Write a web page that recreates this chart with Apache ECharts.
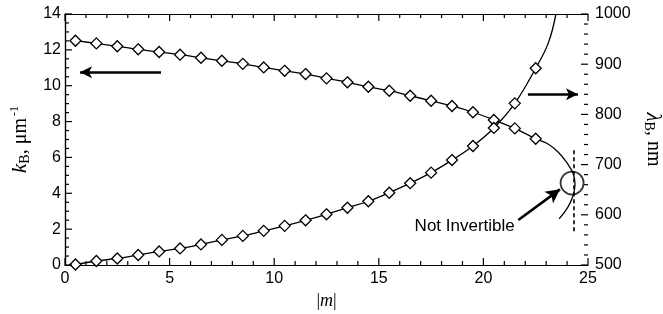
<!DOCTYPE html>
<html>
<head>
<meta charset="utf-8">
<script src="https://cdn.jsdelivr.net/npm/echarts@6/dist/echarts.min.js"></script>
<style>
  html, body { margin: 0; padding: 0; background: #fff; }
  #chart { width: 663px; height: 314px; }
</style>
</head>
<body>
<div id="chart"></div>
<script>
// computed points (diamonds)
const mVals = [0.5, 1.5, 2.5, 3.5, 4.5, 5.5, 6.5, 7.5, 8.5, 9.5, 10.5, 11.5,
  12.5, 13.5, 14.5, 15.5, 16.5, 17.5, 18.5, 19.5, 20.5, 21.5, 22.5]
const kVals = [12.51, 12.36, 12.2, 12.03, 11.88, 11.73, 11.56, 11.39, 11.22, 11.02, 10.83, 10.65,
  10.41, 10.19, 9.94, 9.72, 9.44, 9.16, 8.87, 8.52, 8.09, 7.62, 7.04]
const lamVals = [501, 508, 513, 520, 527, 533, 541, 550, 558, 568, 578, 589,
  601, 614, 627, 644, 663, 684, 709, 737, 773, 822, 892]

// continuation of the curves past the last computed point
const kTailM = [23.09, 23.57, 24.0, 24.28, 24.38, 24.28, 24.04, 23.62]
const kTailK = [6.75, 6.3, 5.69, 5.13, 4.52, 3.85, 3.23, 2.57]
const lamTailM = [23.1, 23.47]
const lamTailL = [942, 1000]

const xTicks = [0, 5, 10, 15, 20, 25]
const kTicks = [0, 2, 4, 6, 8, 10, 12, 14]
const lamTicks = [500, 600, 700, 800, 900, 1000]

// annotations (data coords)
const leftArrow = [[4.59, 10.75], [0.72, 10.75]]
const rightArrow = [[22.13, 840], [24.52, 840]]
const notInvArrow = [[21.67, 2.51], [23.66, 4.22]]
const notInvText = [21.5, 2.17]
const circlePt = [24.24, 4.57]
const dashedLine = [[24.3, 6.4], [24.3, 1.85]]

const black = '#000'
const sans = '"Liberation Sans", Arial, sans-serif'
const serif = '"Liberation Serif", "Times New Roman", serif'

const chart = echarts.init(document.getElementById('chart'))

const plainLabel = (v) => String(v)
const axisLine = { show: true, lineStyle: { color: black, width: 1.2 } }
const noTick = { show: false }

const kData = mVals.map((m, i) => [m, kVals[i]])
  .concat(kTailM.map((m, i) => ({ value: [m, kTailK[i]], symbol: 'none' })))
const lamData = mVals.map((m, i) => [m, lamVals[i]])
  .concat(lamTailM.map((m, i) => ({ value: [m, lamTailL[i]], symbol: 'none' })))

const option = {
  animation: false,
  backgroundColor: '#fff',
  grid: { left: 65, right: 75, top: 14, bottom: 49, containLabel: false, outerBoundsMode: 'none' },
  xAxis: [
    {
      type: 'value',
      min: xTicks[0],
      max: xTicks[xTicks.length - 1],
      interval: 5,
      position: 'bottom',
      name: '|{m|m}|',
      nameLocation: 'middle',
      nameGap: 17,
      nameTextStyle: {
        fontFamily: serif, fontSize: 18, color: black,
        rich: { m: { fontFamily: serif, fontStyle: 'italic', fontSize: 18, color: black } },
      },
      axisLine: axisLine,
      axisTick: noTick,
      minorTick: noTick,
      axisLabel: { color: black, fontFamily: sans, fontSize: 16, margin: 6, formatter: plainLabel },
      splitLine: { show: false },
    },
    {
      type: 'value',
      min: xTicks[0],
      max: xTicks[xTicks.length - 1],
      interval: 5,
      position: 'top',
      axisLine: axisLine,
      axisTick: noTick,
      minorTick: noTick,
      axisLabel: { show: false },
      splitLine: { show: false },
    },
  ],
  yAxis: [
    {
      type: 'value',
      min: kTicks[0],
      max: kTicks[kTicks.length - 1],
      interval: 2,
      position: 'left',
      name: '{k|k}{sub|B}{n|, μm}{sup|-1}',
      nameLocation: 'middle',
      nameGap: 30,
      nameTextStyle: {
        color: black,
        rich: {
          k: { fontFamily: serif, fontStyle: 'italic', fontSize: 21, color: black },
          sub: { fontFamily: serif, fontSize: 14, color: black, verticalAlign: 'bottom', padding: [9, 0, 0, 0] },
          n: { fontFamily: serif, fontSize: 20, color: black },
          sup: { fontFamily: serif, fontSize: 12, color: black, verticalAlign: 'top', padding: [0, 0, 11, 2] },
        },
      },
      axisLine: axisLine,
      axisTick: noTick,
      minorTick: noTick,
      axisLabel: { color: black, fontFamily: sans, fontSize: 16, margin: 4, formatter: plainLabel },
      splitLine: { show: false },
    },
    {
      type: 'value',
      min: lamTicks[0],
      max: lamTicks[lamTicks.length - 1],
      interval: 100,
      position: 'right',
      name: '{l|λ}{sub|B}{n|, nm}',
      nameLocation: 'middle',
      nameRotate: -90,
      nameGap: 47,
      nameTextStyle: {
        color: black,
        rich: {
          l: { fontFamily: serif, fontStyle: 'italic', fontSize: 21, color: black },
          sub: { fontFamily: serif, fontSize: 14, color: black, verticalAlign: 'bottom', padding: [9, 0, 0, 0] },
          n: { fontFamily: serif, fontSize: 20, color: black },
        },
      },
      axisLine: axisLine,
      axisTick: noTick,
      minorTick: noTick,
      axisLabel: { color: black, fontFamily: sans, fontSize: 16, margin: 7, formatter: plainLabel },
      splitLine: { show: false },
    },
  ],
  series: [
    {
      name: 'kB',
      type: 'line',
      xAxisIndex: 0,
      yAxisIndex: 0,
      smooth: 0.4,
      data: kData,
      symbol: 'diamond',
      symbolSize: 11,
      itemStyle: { color: '#fff', borderColor: black, borderWidth: 1.3 },
      lineStyle: { color: black, width: 1.3 },
      z: 3,
      markLine: {
        silent: true,
        label: { show: false },
        data: [
          [
            { coord: leftArrow[0], symbol: 'none' },
            { coord: leftArrow[1], symbol: 'arrow', symbolSize: [9, 12] },
          ],
          [
            { coord: notInvArrow[0], symbol: 'none' },
            { coord: notInvArrow[1], symbol: 'arrow', symbolSize: [11, 14] },
          ],
          [
            { coord: dashedLine[0], symbol: 'none', lineStyle: { type: [4, 3], width: 1.6 } },
            { coord: dashedLine[1], symbol: 'none' },
          ],
        ],
        lineStyle: { color: black, width: 2.6, type: 'solid' },
      },
      markPoint: {
        silent: true,
        symbol: 'circle',
        symbolSize: 0,
        data: [{ coord: notInvText }],
        label: {
          show: true,
          position: 'left',
          distance: 0,
          formatter: 'Not Invertible',
          color: black,
          fontFamily: sans,
          fontSize: 17,
        },
      },
    },
    {
      name: 'lambdaB',
      type: 'line',
      xAxisIndex: 0,
      yAxisIndex: 1,
      smooth: 0.4,
      data: lamData,
      symbol: 'diamond',
      symbolSize: 11,
      itemStyle: { color: '#fff', borderColor: black, borderWidth: 1.3 },
      lineStyle: { color: black, width: 1.3 },
      z: 3,
      markLine: {
        silent: true,
        label: { show: false },
        lineStyle: { color: black, width: 2.6, type: 'solid' },
        data: [
          [
            { coord: rightArrow[0], symbol: 'none' },
            { coord: rightArrow[1], symbol: 'arrow', symbolSize: [9, 12] },
          ],
        ],
      },
    },
    {
      name: 'circle',
      type: 'scatter',
      xAxisIndex: 0,
      yAxisIndex: 0,
      data: [circlePt],
      symbol: 'circle',
      symbolSize: 23,
      silent: true,
      itemStyle: { color: 'rgba(0,0,0,0)', borderColor: black, borderWidth: 1.8 },
      z: 4,
    },
  ],
}

chart.setOption(option)

// inward ticks on all four sides, placed through the axes' own scales
const drawTicks = () => {
  const px = (v) => chart.convertToPixel({ xAxisIndex: 0 }, v)
  const pk = (v) => chart.convertToPixel({ yAxisIndex: 0 }, v)
  const pl = (v) => chart.convertToPixel({ yAxisIndex: 1 }, v)
  const left = px(xTicks[0])
  const right = px(xTicks[xTicks.length - 1])
  const bottom = pk(kTicks[0])
  const top = pk(kTicks[kTicks.length - 1])
  const els = []
  const seg = (x1, y1, x2, y2) => els.push({
    type: 'line', silent: true, z: 10,
    shape: { x1, y1, x2, y2 },
    style: { stroke: black, lineWidth: 1.2 },
  })
  // x: major every 5, minor every 1
  for (let i = 0; i <= 25; i++) {
    const len = i % 5 === 0 ? 7 : 4
    const x = px(i)
    seg(x, bottom, x, bottom - len)
    seg(x, top, x, top + len)
  }
  // k: major every 2, minor every 0.5
  for (let i = 0; i <= 28; i++) {
    const len = i % 4 === 0 ? 7 : 4
    const y = pk(i * 0.5)
    seg(left, y, left + len, y)
  }
  // lambda: major every 100, minor every 20
  for (let i = 0; i <= 25; i++) {
    const len = i % 5 === 0 ? 7 : 4
    const y = pl(500 + i * 20)
    seg(right, y, right - len, y)
  }
  chart.setOption({ graphic: { elements: els } })
}

drawTicks()
window.addEventListener('resize', () => {
  chart.resize()
  drawTicks()
})
</script>
</body>
</html>
